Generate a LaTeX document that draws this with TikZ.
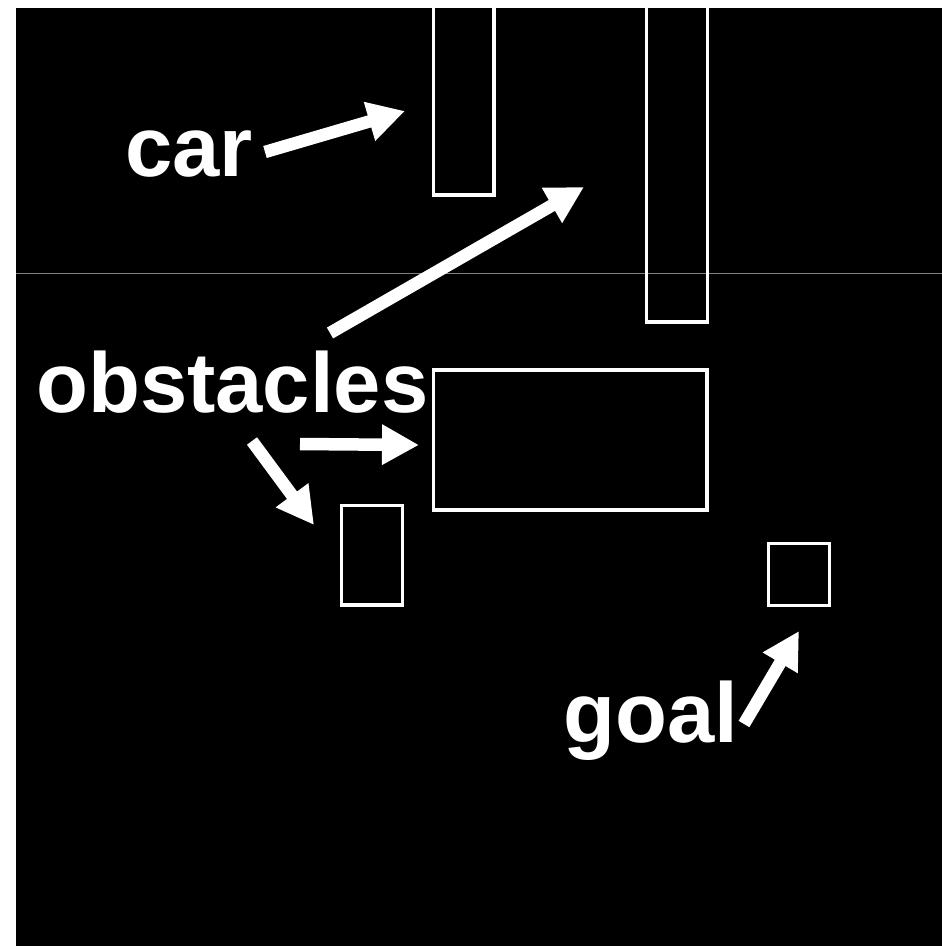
\documentclass[tikz,border=0pt]{standalone}
\usepackage{fontspec}
\setmainfont{Liberation Sans}
\usetikzlibrary{arrows.meta}

\begin{document}
\begin{tikzpicture}[x=1pt,y=-1pt,>={Triangle[length=37pt,width=38pt]},
  tag/.style={anchor=base west,inner sep=0pt,text=white,font=\fontsize{85pt}{90pt}\selectfont\bfseries},
  pointer/.style={->,white,line width=12.5pt},
  wall/.style={white,line width=3.5pt}]
\useasboundingbox (0,0) rectangle (942,946);
\fill[white] (0,0) rectangle (942,946);
\fill[black] (16,8) rectangle (942,946);
\draw[gray,line width=1pt] (16,273) -- (942,273);

% car and obstacles
\draw[wall] (433.5,8) |- (494,195) -- (494,8);
\draw[wall] (646.5,8) |- (707.5,322) -- (707.5,8);
\draw[wall] (433.5,370) rectangle (707,510);
\draw[wall] (341.5,505.5) rectangle (402.5,605);
\draw[wall] (768.5,543.5) rectangle (829.5,605.5);

\node[tag] (car) at (125,176) {car};
\node[tag] (obstacles) at (36,412) {obstacles};
\node[tag] (goal) at (563,742) {goal};

\coordinate (car-tail) at (265,152);
\coordinate (car-tip) at (405,111);
\coordinate (obs-tail1) at (330,333);
\coordinate (obs-tip1) at (584,187);
\coordinate (obs-tail2) at (300,444);
\coordinate (obs-tip2) at (419,445);
\coordinate (obs-tail3) at (252,441);
\coordinate (obs-tip3) at (314,525);
\coordinate (goal-tail) at (744,724);
\coordinate (goal-tip) at (799,631);

\draw[pointer] (car-tail) -- (car-tip);
\draw[pointer] (obs-tail1) -- (obs-tip1);
\draw[pointer] (obs-tail2) -- (obs-tip2);
\draw[pointer] (obs-tail3) -- (obs-tip3);
\draw[pointer] (goal-tail) -- (goal-tip);
\end{tikzpicture}
\end{document}
